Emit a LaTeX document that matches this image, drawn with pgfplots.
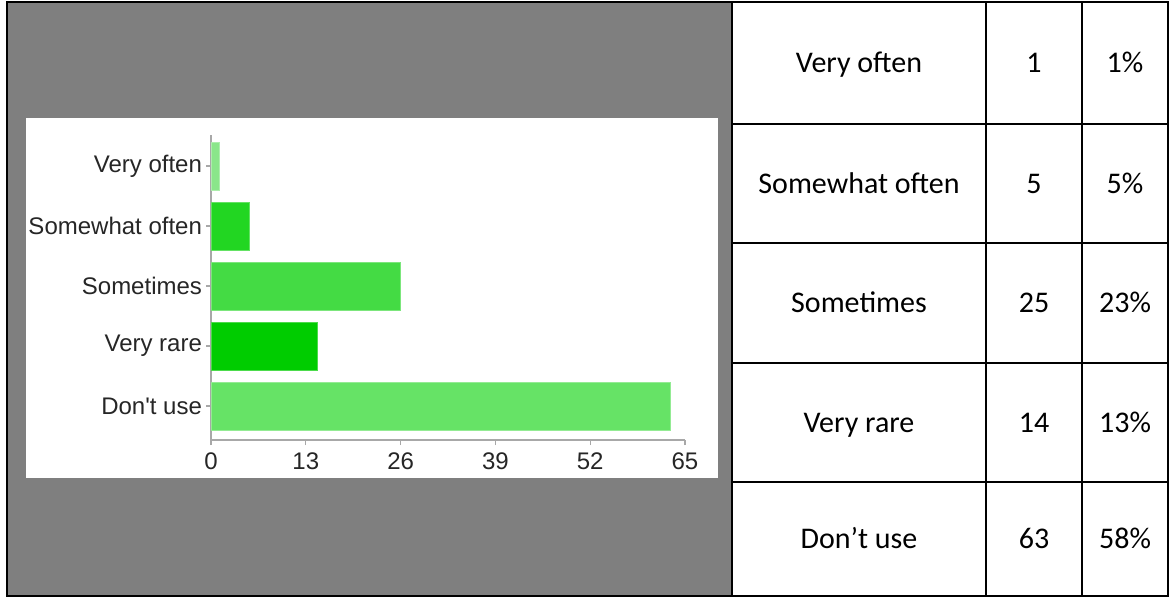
\documentclass[border=0pt]{standalone}
\usepackage{pgfplots}
\pgfplotsset{compat=1.18}
\usepackage{fontspec}
\setmainfont{Liberation Sans}
\newfontfamily\arial{Liberation Sans}
\newfontfamily\calibri{Carlito}
\definecolor{bggray}{HTML}{7F7F7F}
\definecolor{cA}{HTML}{8AE68A}
\definecolor{cB}{HTML}{22D622}
\definecolor{cC}{HTML}{44DB44}
\definecolor{cD}{HTML}{00CC00}
\definecolor{cE}{HTML}{66E366}
\definecolor{axgray}{HTML}{A8A8A8}
\begin{document}
\begin{tikzpicture}[x=0.5pt,y=-0.5pt]
% bounding box
\path (0,0) rectangle (1172,597);
% gray cell and white chart area
\fill[bggray] (7,2) rectangle (732,596);
\fill[white] (26,118) rectangle (718,478);
\coordinate (O) at (211,440);
% chart
\begin{axis}[
  at={(O)}, anchor=south west,
  scale only axis, width=237pt, height=152.5pt,
  xmin=0, xmax=65, ymin=-0.567, ymax=4.517,
  xtick={0,13,26,39,52,65},
  ytick={0,1,2,3,4},
  yticklabels={Don't use,Very rare,Sometimes,Somewhat often,Very often},
  axis x line*=bottom, axis y line*=left,
  axis line style={draw=axgray,line width=0.6pt,-},
  tick style={draw=axgray,line width=0.6pt},
  tick align=outside,
  major tick length=2.5pt,
  xbar, bar width=0.8, bar shift=0pt,
  tick label style={font=\arial\fontsize{12}{14}\selectfont, text=black!85},
  /pgf/number format/assume math mode=true,
  yticklabel style={xshift=1.5pt},
  xticklabel style={yshift=-0.5pt},
  clip=false,
]
\addplot[fill=cA, draw=cA!70!white, line width=0.4pt] coordinates {(1.2,4)};
\addplot[fill=cB, draw=cB!70!white, line width=0.4pt] coordinates {(5.2,3)};
\addplot[fill=cC, draw=cC!70!white, line width=0.4pt] coordinates {(26,2)};
\addplot[fill=cD, draw=cD!70!white, line width=0.4pt] coordinates {(14.6,1)};
\addplot[fill=cE, draw=cE!70!white, line width=0.4pt] coordinates {(63,0)};
\end{axis}
% table
\draw[line width=1.2pt, black] (7,2) rectangle (1168,596);
\draw[line width=1.2pt, black] (732,2) -- (732,596);
\draw[line width=1.2pt, black] (986,2) -- (986,596);
\draw[line width=1.2pt, black] (1082,2) -- (1082,596);
\foreach \yy in {124,243,363,482} {\draw[line width=1.2pt, black] (732,\yy) -- (1168,\yy);}
\begin{scope}[every node/.style={font=\calibri\fontsize{15}{18}\selectfont, text=black, inner sep=0pt, anchor=base}]
\node at (859,73) {Very often};
\node at (859,193.5) {Somewhat often};
\node at (859,313) {Sometimes};
\node at (859,432.5) {Very rare};
\node at (859,549) {Don’t use};
\node at (1034,73) {1};
\node at (1034,193.5) {5};
\node at (1034,313) {25};
\node at (1034,432.5) {14};
\node at (1034,549) {63};
\node at (1125,73) {1\%};
\node at (1125,193.5) {5\%};
\node at (1125,313) {23\%};
\node at (1125,432.5) {13\%};
\node at (1125,549) {58\%};
\end{scope}
\end{tikzpicture}
\end{document}
